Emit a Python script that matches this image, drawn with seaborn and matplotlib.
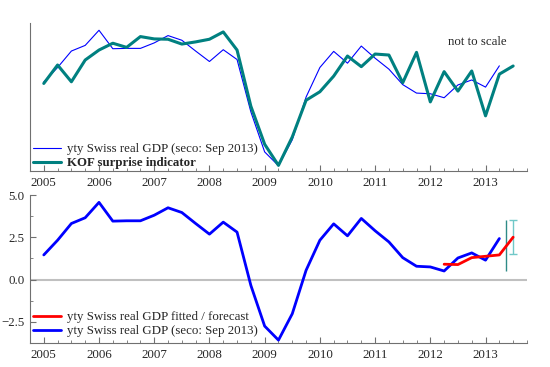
import numpy as np
import pandas as pd
import matplotlib
matplotlib.use("Agg")
import matplotlib.pyplot as plt
from matplotlib.ticker import MultipleLocator
import seaborn as sns

# ----------------------------------------
# Data (quarterly)
# ----------------------------------------

gdp = [1.46, 2.33, 3.32, 3.66, 4.57, 3.46, 3.48, 3.48, 3.81, 4.25, 3.97, 3.32,
       2.69, 3.40, 2.81, -0.34, -2.75, -3.58, -2.02, 0.55, 2.33, 3.30, 2.59, 3.62,
       2.89, 2.23, 1.30, 0.79, 0.75, 0.51, 1.28, 1.58, 1.15, 2.43]
kof = [1.37, 2.48, 1.47, 2.78, 3.38, 3.79, 3.54, 4.19, 4.05, 4.03, 3.74, 3.87,
       4.03, 4.47, 3.38, 0.00, -2.29, -3.56, -1.85, 0.36, 0.87, 1.81, 3.02, 2.38,
       3.14, 3.08, 1.41, 3.24, 0.26, 2.08, 0.91, 2.12, -0.58, 1.93, 2.42]
fitted = [0.91, 0.89, 1.30, 1.38, 1.46, 2.51]

gdp_start = 2005.0
kof_start = 2005.0
fitted_start = 2012.25

forecast_x = 2013.5
forecast_lo = 1.52
forecast_hi = 3.55
marker_x = 2013.375
marker_lo = 0.5
marker_hi = 3.52

years = list(range(2005, 2014))

gdp_q = gdp_start + 0.25 * np.arange(len(gdp))
kof_q = kof_start + 0.25 * np.arange(len(kof))
fit_q = fitted_start + 0.25 * np.arange(len(fitted))

df_gdp = pd.DataFrame({"t": gdp_q, "v": gdp})
df_kof = pd.DataFrame({"t": kof_q, "v": kof})
df_fit = pd.DataFrame({"t": fit_q, "v": fitted})

# ----------------------------------------
# Style
# ----------------------------------------

sns.set_style("ticks")
plt.rcParams["font.family"] = ["Liberation Serif", "DejaVu Serif"]
fs = 9.3
plt.rcParams["font.size"] = fs

fig = plt.figure(figsize=(5.5, 3.67), dpi=100)
ax1 = fig.add_axes([0.0545, 0.534, 0.9036, 0.403])
ax2 = fig.add_axes([0.0545, 0.0654, 0.9036, 0.403])

spine_col = "#707070"

def style_axis(ax):
    ax.set_xlim(2004.75, 2013.75)
    ax.xaxis.set_major_locator(MultipleLocator(1))
    ax.xaxis.set_minor_locator(MultipleLocator(0.25))
    ax.set_xticks(years)
    ax.set_xticklabels([str(y) for y in years])
    ax.tick_params(axis="both", which="major", direction="in", length=4,
                   color=spine_col, labelsize=fs, pad=4)
    ax.tick_params(axis="both", which="minor", direction="in", length=2.5,
                   color=spine_col)
    for s in ["top", "right"]:
        ax.spines[s].set_visible(False)
    for s in ["left", "bottom"]:
        ax.spines[s].set_color(spine_col)
        ax.spines[s].set_linewidth(0.8)
    ax.set_xlabel("")
    ax.set_ylabel("")

legend_kw = dict(loc="lower left", frameon=False, handlelength=2.2,
                 handletextpad=0.4, labelspacing=0.15, borderaxespad=0.0,
                 borderpad=0.0, fontsize=fs)

# ----------------------------------------
# Top panel: GDP vs KOF surprise indicator
# ----------------------------------------

sns.lineplot(data=df_gdp, x="t", y="v", ax=ax1, color="#0000ff", linewidth=0.8,
             label="yty Swiss real GDP (seco: Sep 2013)")
sns.lineplot(data=df_kof, x="t", y="v", ax=ax1, color="#008080", linewidth=2.2,
             label="KOF surprise indicator")
style_axis(ax1)
ax1.set_ylim(-3.9, 5.0)
ax1.set_yticks([])
ax1.text(0.90, 0.875, "not to scale", transform=ax1.transAxes,
         ha="center", va="center", fontsize=fs)
leg1 = ax1.legend(bbox_to_anchor=(0.006, 0.013), **legend_kw)
leg1.get_texts()[1].set_fontweight("bold")

# ----------------------------------------
# Bottom panel: GDP with fitted / forecast
# ----------------------------------------

ax2.axhline(0, color="#c0c0c0", linewidth=1.5, zorder=0)
sns.lineplot(data=df_fit, x="t", y="v", ax=ax2, color="#ff0000", linewidth=2,
             label="yty Swiss real GDP fitted / forecast", zorder=3)
sns.lineplot(data=df_gdp, x="t", y="v", ax=ax2, color="#0000ff", linewidth=2,
             label="yty Swiss real GDP (seco: Sep 2013)", zorder=2)
ax2.vlines(marker_x, marker_lo, marker_hi, color="#2e8b87", linewidth=1)
mid = (forecast_lo + forecast_hi) / 2
ax2.errorbar([forecast_x], [mid], yerr=[[mid - forecast_lo], [forecast_hi - mid]],
             fmt="none", ecolor="#70c8c8", elinewidth=1, capsize=3)
style_axis(ax2)
ax2.set_ylim(-3.75, 5.0)
ax2.yaxis.set_major_locator(MultipleLocator(2.5))
ax2.yaxis.set_minor_locator(MultipleLocator(1.25))
ax2.set_yticks([-2.5, 0.0, 2.5, 5.0])
ax2.set_yticklabels(["\u22122.5", "0.0", "2.5", "5.0"])
ax2.legend(bbox_to_anchor=(0.006, 0.04), **legend_kw)

fig.savefig("out.png", dpi=100)
